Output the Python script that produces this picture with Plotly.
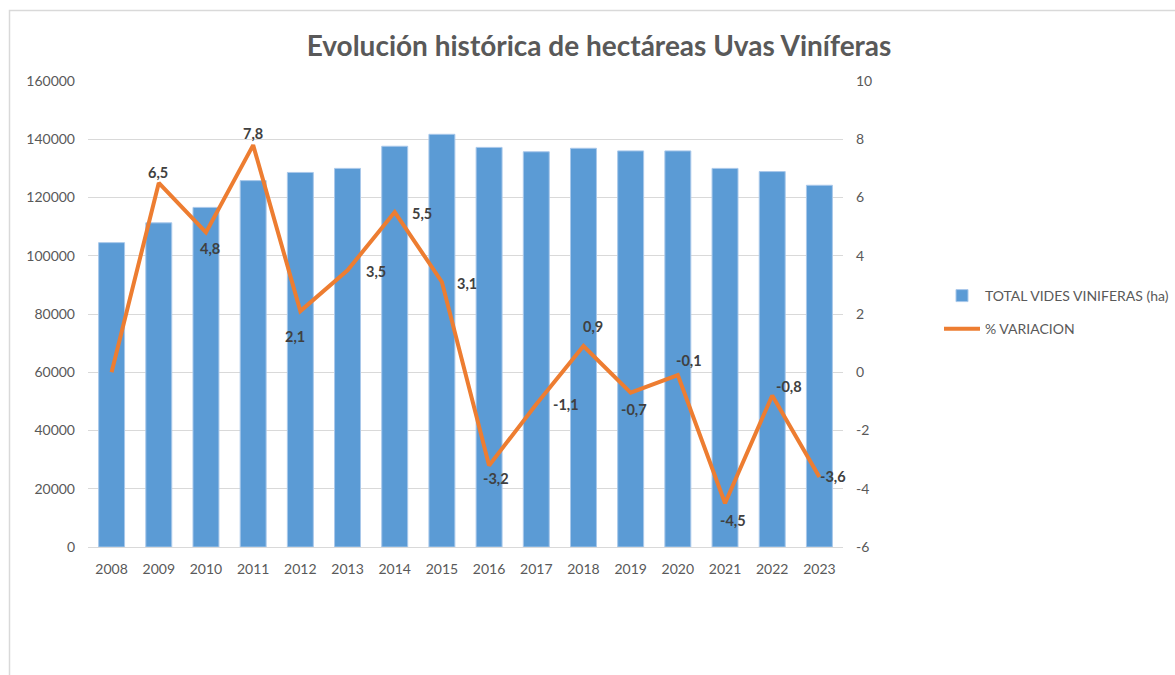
import plotly.graph_objects as go

years = ["2008", "2009", "2010", "2011", "2012", "2013", "2014", "2015",
         "2016", "2017", "2018", "2019", "2020", "2021", "2022", "2023"]
hectareas = [104500, 111300, 116600, 125800, 128600, 130000, 137600, 141700,
             137200, 135700, 136900, 136000, 136000, 130000, 128900, 124200]
variacion = [0.0, 6.5, 4.8, 7.8, 2.1, 3.5, 5.5, 3.1,
             -3.2, -1.1, 0.9, -0.7, -0.1, -4.5, -0.8, -3.6]
right_ticks = [-6, -4, -2, 0, 2, 4, 6, 8, 10]
left_ticks = [0, 20000, 40000, 60000, 80000, 100000, 120000, 140000, 160000]

# label placement offsets in pixels (style only)
label_shift = [None, (-1, 10), (4, -16), (0, 12), (-5, -25), (28, -1), (27, -1), (25, -2),
               (7, -13), (30, 0), (10, 20), (3, -17), (11, 15), (8, -17), (17, 9), (14, 1)]

FONT = "Lato, 'Liberation Sans', sans-serif"
GRAY = "#595959"

W, H = 1175, 675
L, R, T, B = 88, 332, 81, 128
pw, ph = W - L - R, H - T - B

fig = go.Figure()
fig.add_trace(go.Bar(
    x=years, y=hectareas, name="TOTAL VIDES VINIFERAS (ha)", legendgroup="a",
    marker=dict(color="#5B9BD5", line=dict(color="#A9C8EA", width=1)),
    yaxis="y",
))
fig.add_trace(go.Scatter(
    x=years, y=variacion, name="% VARIACION", mode="lines", legendgroup="b",
    line=dict(color="#ED7D31", width=4),
    yaxis="y2", cliponaxis=False,
))

for i, (v, sh) in enumerate(zip(variacion, label_shift)):
    if sh is None:
        continue
    fig.add_annotation(x=i, y=v, xref="x", yref="y2",
                       text="<b>" + f"{v:.1f}".replace(".", ",") + "</b>",
                       showarrow=False, xshift=sh[0], yshift=sh[1],
                       font=dict(family=FONT, size=14.5, color="#404040"))

fig.update_layout(
    width=W, height=H,
    margin=dict(l=L, r=R, t=T, b=B),
    paper_bgcolor="white", plot_bgcolor="white",
    font=dict(family=FONT, size=14, color=GRAY),
    bargap=0.45,
    title=dict(text="<b>Evolución histórica de hectáreas Uvas Viníferas</b>",
               x=(599 - L) / pw, xref="paper", xanchor="center",
               y=1 - 46 / H, yref="container", yanchor="middle",
               font=dict(family=FONT, size=28, color=GRAY)),
    xaxis=dict(type="category", range=[-0.5, len(years) - 0.5],
               showline=True, linecolor="#D9D9D9", linewidth=1,
               ticks="", showgrid=False, automargin=False, ticklabelstandoff=9,
               tickfont=dict(size=14, color=GRAY)),
    yaxis=dict(range=[0, 160000], tickvals=left_ticks, tickformat="d",
               showgrid=True, gridcolor="#D9D9D9", gridwidth=1, zeroline=False,
               showline=False, ticks="", ticklabelstandoff=12, automargin=False,
               tickfont=dict(size=14, color=GRAY)),
    yaxis2=dict(range=[-6, 10], overlaying="y", side="right",
                tickvals=right_ticks, ticktext=[str(t) for t in right_ticks],
                showgrid=False, zeroline=False, showline=False, ticks="",
                ticklabelstandoff=12, automargin=False,
                tickfont=dict(size=14, color=GRAY)),
    legend=dict(xref="container", yref="container",
                x=939 / W, y=1 - 280 / H, xanchor="left", yanchor="top",
                font=dict(size=14, color=GRAY), bgcolor="rgba(0,0,0,0)",
                traceorder="grouped", tracegroupgap=12, itemwidth=36),
    showlegend=True,
)

fig.add_shape(type="rect", xref="paper", yref="paper",
              x0=(9.5 - L) / pw, x1=(W + 50 - L) / pw,
              y0=(H - B - (H + 50)) / ph, y1=(H - B - 10.5) / ph,
              line=dict(color="#D9D9D9", width=1.5), fillcolor="rgba(0,0,0,0)", layer="below")

fig.write_html("out.html", config={"displayModeBar": False},
               post_script="document.body.style.margin='0';")
